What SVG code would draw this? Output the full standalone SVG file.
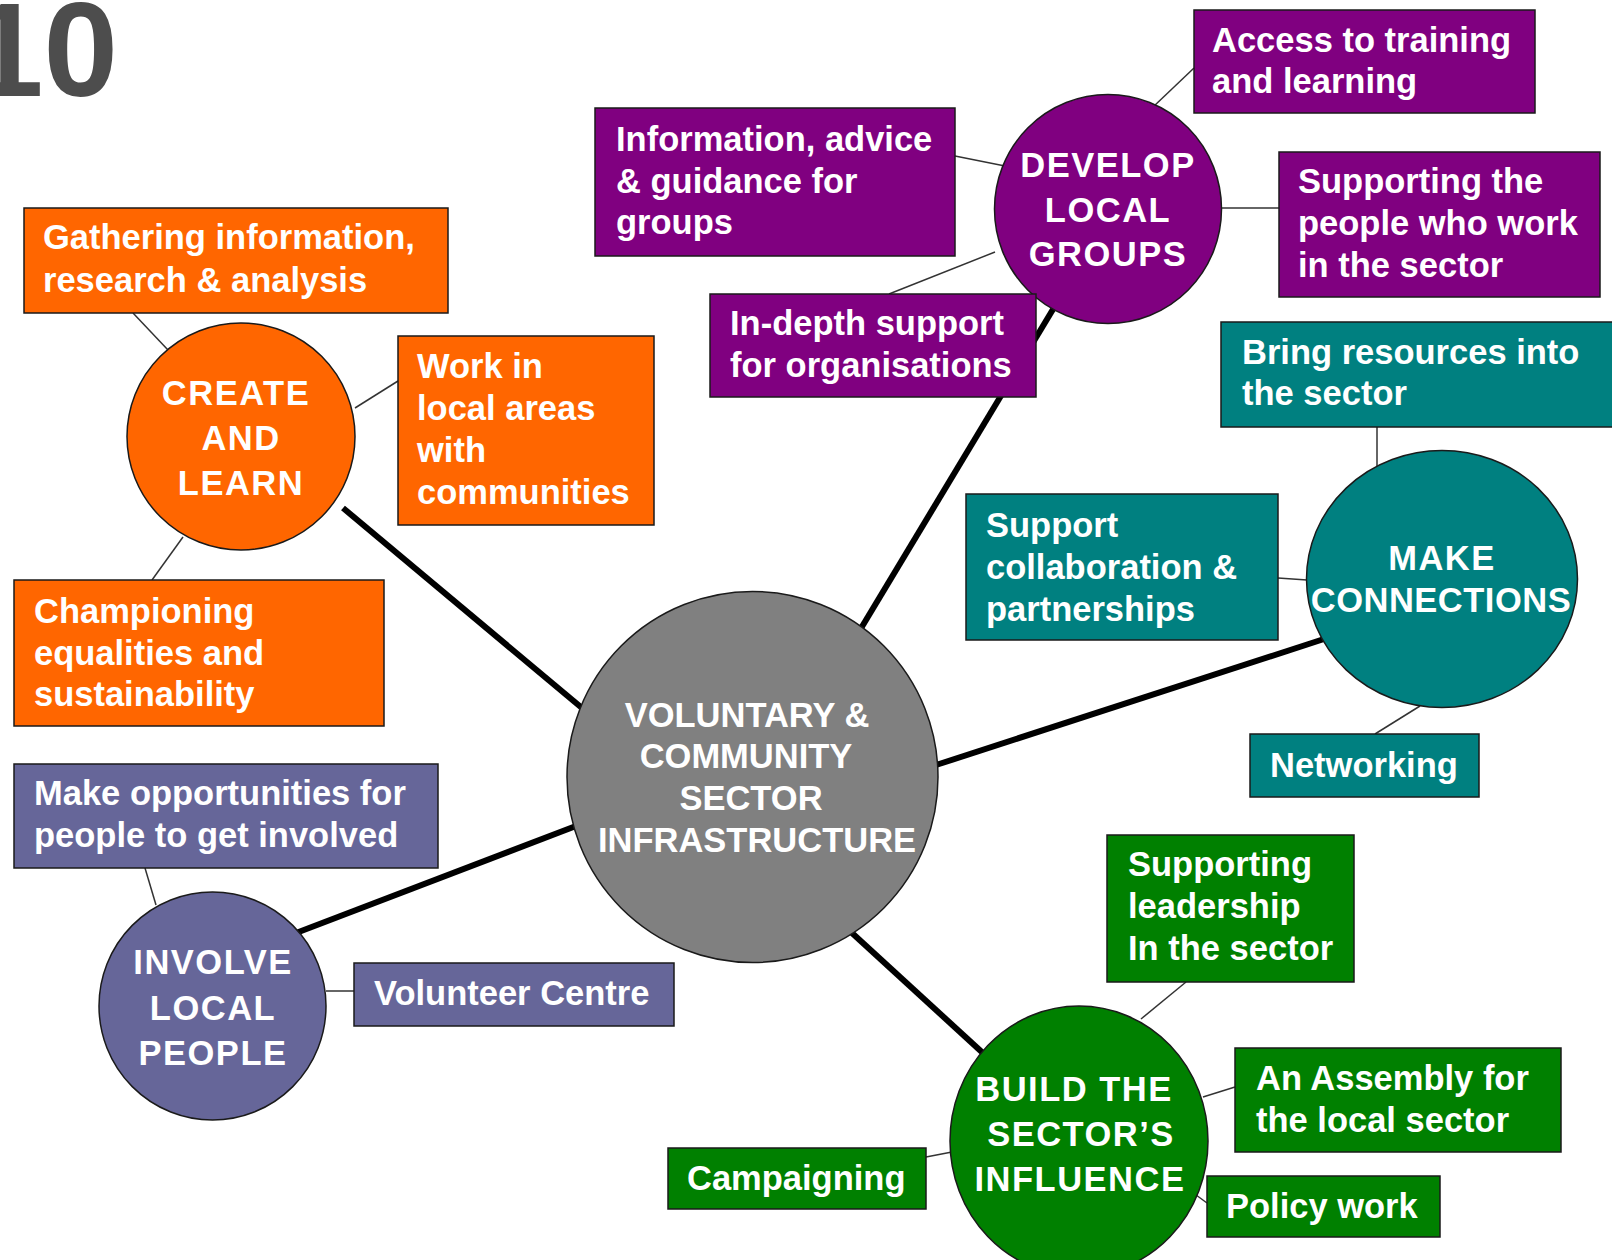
<svg xmlns="http://www.w3.org/2000/svg" width="1612" height="1260" viewBox="0 0 1612 1260">
<style>
.bx{stroke:#1a1a1a;stroke-width:1.5}
.ci{stroke:#1a1a1a;stroke-width:1.5}
.or{fill:#FF6600}.pu{fill:#800080}.te{fill:#008080}.sl{fill:#666699}.gr{fill:#008000}.gy{fill:#808080}
text{font-family:"Liberation Sans",Arial,sans-serif;font-weight:bold;fill:#fff;font-size:34.5px}
.ct{text-anchor:middle;letter-spacing:1.5px}
.cc{text-anchor:middle}
.thin{stroke:#333;stroke-width:1.5;fill:none}
.thick{stroke:#000;stroke-width:6;fill:none}
</style>
<rect width="1612" height="1260" fill="#fff"/>
<text x="-31" y="96" style="font-size:134px;fill:#4D4D4D">10</text>
<g id="connectors">
<line class="thick" x1="343" y1="508" x2="582" y2="708"/>
<line class="thick" x1="860" y1="630" x2="1055" y2="306"/>
<line class="thick" x1="936" y1="765" x2="1324" y2="639"/>
<line class="thick" x1="296" y1="933" x2="576" y2="826"/>
<line class="thick" x1="852" y1="933" x2="984" y2="1054"/>
<line class="thin" x1="133" y1="313" x2="168" y2="350"/>
<line class="thin" x1="355" y1="408" x2="398" y2="381"/>
<line class="thin" x1="183" y1="537" x2="152" y2="580"/>
<line class="thin" x1="955" y1="156" x2="1005" y2="166"/>
<line class="thin" x1="1153" y1="107" x2="1194" y2="68"/>
<line class="thin" x1="1222" y1="208" x2="1279" y2="208"/>
<line class="thin" x1="889" y1="294" x2="995" y2="252"/>
<line class="thin" x1="1377" y1="427" x2="1377" y2="467"/>
<line class="thin" x1="1278" y1="578" x2="1307" y2="580"/>
<line class="thin" x1="1375" y1="734" x2="1420" y2="706"/>
<line class="thin" x1="145" y1="868" x2="156" y2="905"/>
<line class="thin" x1="326" y1="991" x2="354" y2="991"/>
<line class="thin" x1="1186" y1="982" x2="1141" y2="1019"/>
<line class="thin" x1="1203" y1="1097" x2="1235" y2="1087"/>
<line class="thin" x1="1192" y1="1192" x2="1207" y2="1203"/>
<line class="thin" x1="926" y1="1157" x2="952" y2="1152"/>
</g>
<g id="center">
<circle class="ci gy" cx="752.5" cy="777" r="185.5"/>
<text class="cc" x="747" y="727">VOLUNTARY &amp;</text>
<text class="cc" x="746" y="768">COMMUNITY</text>
<text class="cc" x="751" y="810">SECTOR</text>
<text class="cc" x="757" y="852">INFRASTRUCTURE</text>
</g>
<g id="create">
<ellipse class="ci or" cx="241" cy="436.5" rx="114" ry="113.5"/>
<text class="ct" x="236" y="405">CREATE</text>
<text class="ct" x="241" y="450">AND</text>
<text class="ct" x="241" y="495">LEARN</text>
</g>
<g id="develop">
<ellipse class="ci pu" cx="1108" cy="209" rx="113.5" ry="114.5"/>
<text class="ct" x="1108" y="177">DEVELOP</text>
<text class="ct" x="1108" y="222">LOCAL</text>
<text class="ct" x="1108" y="266">GROUPS</text>
</g>
<g id="make">
<ellipse class="ci te" cx="1442" cy="579" rx="135.5" ry="128.5"/>
<text class="ct" x="1442" y="570">MAKE</text>
<text class="cc" x="1441" y="612" style="letter-spacing:0.5px">CONNECTIONS</text>
</g>
<g id="involve">
<ellipse class="ci sl" cx="212.5" cy="1006" rx="113.5" ry="114"/>
<text class="ct" x="213" y="974">INVOLVE</text>
<text class="ct" x="213" y="1020">LOCAL</text>
<text class="ct" x="213" y="1065">PEOPLE</text>
</g>
<g id="build">
<ellipse class="ci gr" cx="1079" cy="1141" rx="129" ry="135"/>
<text class="ct" x="1074" y="1101">BUILD THE</text>
<text class="ct" x="1081" y="1146">SECTOR’S</text>
<text class="ct" x="1080" y="1191">INFLUENCE</text>
</g>
<g id="gather">
<rect class="bx or" x="24" y="208" width="424" height="105"/>
<text x="43" y="249">Gathering information,</text>
<text x="43" y="292">research &amp; analysis</text>
</g>
<g id="workin">
<rect class="bx or" x="398" y="336" width="256" height="189"/>
<text x="417" y="378">Work in</text>
<text x="417" y="420">local areas</text>
<text x="417" y="462">with</text>
<text x="417" y="504">communities</text>
</g>
<g id="champ">
<rect class="bx or" x="14" y="580" width="370" height="146"/>
<text x="34" y="623">Championing</text>
<text x="34" y="665">equalities and</text>
<text x="34" y="706">sustainability</text>
</g>
<g id="info">
<rect class="bx pu" x="595" y="108" width="360" height="148"/>
<text x="616" y="151">Information, advice</text>
<text x="616" y="193">&amp; guidance for</text>
<text x="616" y="234">groups</text>
</g>
<g id="access">
<rect class="bx pu" x="1194" y="10" width="341" height="103"/>
<text x="1212" y="52">Access to training</text>
<text x="1212" y="93">and learning</text>
</g>
<g id="suppeople">
<rect class="bx pu" x="1279" y="152" width="321" height="145"/>
<text x="1298" y="193">Supporting the</text>
<text x="1298" y="235">people who work</text>
<text x="1298" y="277">in the sector</text>
</g>
<g id="indepth">
<rect class="bx pu" x="710" y="294" width="326" height="103"/>
<text x="730" y="335">In-depth support</text>
<text x="730" y="377">for organisations</text>
</g>
<g id="bring">
<rect class="bx te" x="1221" y="322" width="400" height="105"/>
<text x="1242" y="364">Bring resources into</text>
<text x="1242" y="405">the sector</text>
</g>
<g id="collab">
<rect class="bx te" x="966" y="494" width="312" height="146"/>
<text x="986" y="537">Support</text>
<text x="986" y="579">collaboration &amp;</text>
<text x="986" y="621">partnerships</text>
</g>
<g id="networking">
<rect class="bx te" x="1250" y="734" width="229" height="63"/>
<text x="1270" y="777">Networking</text>
</g>
<g id="makeopp">
<rect class="bx sl" x="14" y="764" width="424" height="104"/>
<text x="34" y="805">Make opportunities for</text>
<text x="34" y="847">people to get involved</text>
</g>
<g id="volunteer">
<rect class="bx sl" x="354" y="963" width="320" height="63"/>
<text x="374" y="1005">Volunteer Centre</text>
</g>
<g id="leadership">
<rect class="bx gr" x="1107" y="835" width="247" height="147"/>
<text x="1128" y="876">Supporting</text>
<text x="1128" y="918">leadership</text>
<text x="1128" y="960">In the sector</text>
</g>
<g id="assembly">
<rect class="bx gr" x="1235" y="1048" width="326" height="104"/>
<text x="1256" y="1090">An Assembly for</text>
<text x="1256" y="1132">the local sector</text>
</g>
<g id="policy">
<rect class="bx gr" x="1207" y="1176" width="233" height="61"/>
<text x="1226" y="1218">Policy work</text>
</g>
<g id="campaigning">
<rect class="bx gr" x="668" y="1148" width="258" height="61"/>
<text x="687" y="1190">Campaigning</text>
</g>
</svg>
